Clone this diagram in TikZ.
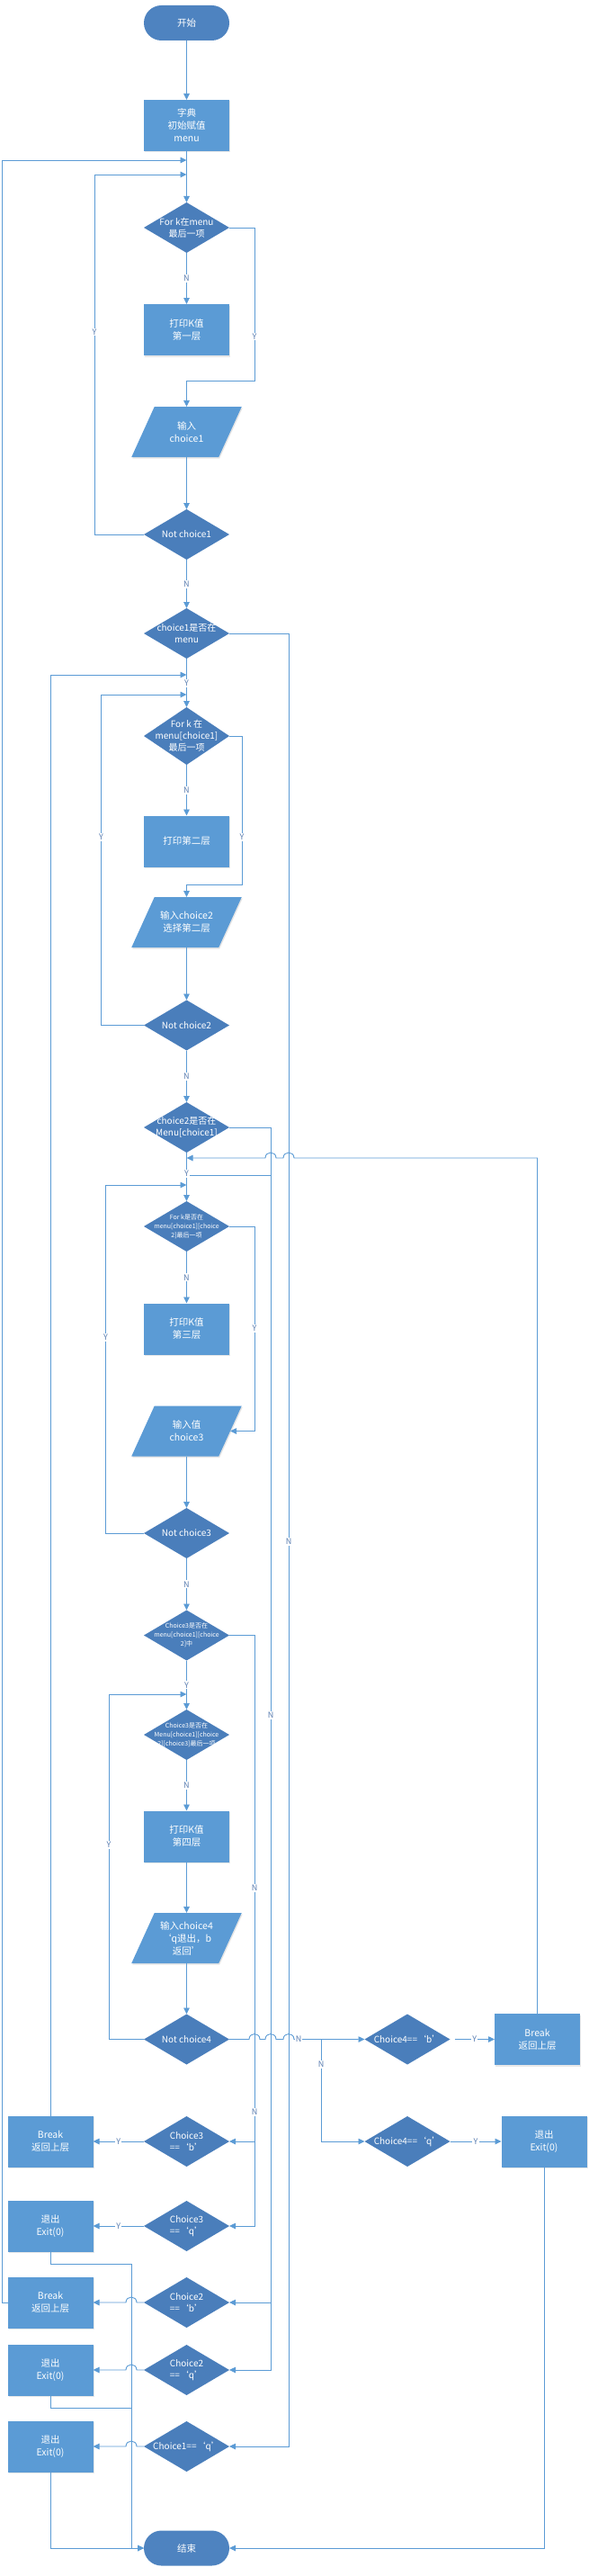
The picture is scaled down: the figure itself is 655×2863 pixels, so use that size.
\documentclass[tikz,border=0pt]{standalone}
\usepackage{fontspec}
\setmainfont{Noto Sans CJK SC}
\usetikzlibrary{shapes.geometric,arrows.meta,shadows,backgrounds}
\definecolor{linec}{HTML}{5B9BD5}
\definecolor{boxc}{HTML}{5B9BD5}
\definecolor{diac}{HTML}{4A7EBB}
\definecolor{termc}{HTML}{4E83C0}
\definecolor{ync}{HTML}{5A7DB0}
\begin{document}
\begin{tikzpicture}[x=1pt,y=-1pt,
  txt/.style={text=white, align=center, inner sep=0pt, outer sep=0pt},
  term/.style={txt, rectangle, rounded corners=19.5pt, fill=termc, minimum width=95pt, minimum height=39pt, font=\fontsize{10.5}{13.5}\selectfont},
  pbox/.style={txt, rectangle, fill=boxc, minimum width=95pt, minimum height=57pt, font=\fontsize{10.5}{14}\selectfont, drop shadow={opacity=0.18, shadow xshift=1pt, shadow yshift=-1.5pt}},
  iobox/.style={txt, rectangle, minimum width=97pt, minimum height=56pt, font=\fontsize{10.5}{14}\selectfont},
  dia/.style={diamond, fill=diac, minimum width=95pt, minimum height=56pt, inner sep=0pt, outer sep=0pt},
  dt/.style={txt, font=\fontsize{10}{13}\selectfont},
  dts/.style={txt, font=\fontsize{7}{10}\selectfont},
  yn/.style={fill=white, text=ync, font=\fontsize{9}{10}\selectfont, inner sep=1.2pt},
  ln/.style={draw=linec, line width=0.9pt},
  arr/.style={ln, -{Triangle[length=7pt,width=6.5pt]}}
]
\useasboundingbox (0,0) rectangle (655,2863);

% ---------- nodes ----------
\node[term] (start) at (207.5,25.5) {开始};
\node[pbox] (dict) at (207.5,139.5) {字典\\初始赋值\\menu};
\node[dia, label={[dt]center:{For k在menu\\最后一项}}] (d1) at (207.5,253) {};
\node[pbox] (p1) at (207.5,366.5) {打印K值\\第一层};
\node[iobox] (io1) at (207.5,480) {输入\\choice1};
\node[dia, label={[dt]center:{Not choice1}}] (nc1) at (207.5,594) {};
\node[dia, label={[dt]center:{choice1是否在\\menu}}] (d2) at (207.5,704) {};
\node[dia, minimum height=64pt, label={[dt]center:{For k 在\\menu[choice1]\\最后一项}}] (d3) at (207.5,818) {};
\node[pbox] (p2) at (207.5,935) {打印第二层};
\node[iobox] (io2) at (207.5,1025) {输入choice2\\选择第二层};
\node[dia, label={[dt]center:{Not choice2}}] (nc2) at (207.5,1139.5) {};
\node[dia, label={[dt]center:{choice2是否在\\Menu[choice1]}}] (d4) at (207.5,1253) {};
\node[dia, label={[dts]center:{For k是否在\\menu[choice1][choice\\2]最后一项}}] (d5) at (207.5,1363) {};
\node[pbox] (p3) at (207.5,1477) {打印K值\\第三层};
\node[iobox] (io3) at (207.5,1590.5) {输入值\\choice3};
\node[dia, label={[dt]center:{Not choice3}}] (nc3) at (207.5,1704) {};
\node[dia, label={[dts]center:{Choice3是否在\\menu[choice1][choice\\2]中}}] (d6) at (207.5,1817.5) {};
\node[dia, label={[dts]center:{Choice3是否在\\Menu[choice1][choice\\2][choice3]最后一项}}] (d7) at (207.5,1928) {};
\node[pbox] (p4) at (207.5,2041) {打印K值\\第四层};
\node[iobox] (io4) at (207.5,2154) {输入choice4\\‘q退出，b\\返回’};
\node[dia, label={[dt]center:{Not choice4}}] (nc4) at (207.5,2266.5) {};
\node[dia, label={[dt]center:{Choice4==‘b’}}] (c4b) at (453,2266.5) {};
\node[pbox] (brk4) at (597.5,2266.5) {Break\\返回上层};
\node[dia, label={[dt]center:{Choice4==‘q’}}] (c4q) at (453,2380) {};
\node[pbox] (ex4) at (605,2380) {退出\\Exit(0)};
\node[dia, label={[dt]center:{Choice3\\==‘b’}}] (c3b) at (207.5,2380) {};
\node[pbox] (brk3) at (56,2380) {Break\\返回上层};
\node[dia, label={[dt]center:{Choice3\\==‘q’}}] (c3q) at (207.5,2474) {};
\node[pbox] (ex3) at (56,2474) {退出\\Exit(0)};
\node[dia, label={[dt]center:{Choice2\\==‘b’}}] (c2b) at (207.5,2559) {};
\node[pbox] (brk2) at (56,2559) {Break\\返回上层};
\node[dia, label={[dt]center:{Choice2\\==‘q’}}] (c2q) at (207.5,2634) {};
\node[pbox] (ex2) at (56,2634) {退出\\Exit(0)};
\node[dia, label={[dt]center:{Choice1==‘q’}}] (c1q) at (207.5,2719) {};
\node[pbox] (ex1) at (56,2719) {退出\\Exit(0)};
\node[term] (end) at (207.5,2832) {结束};

% white page and parallelograms behind the input nodes
\begin{scope}[on background layer]
\fill[white] (0,0) rectangle (655,2863);
\foreach \n in {io1,io2,io3,io4}{
  \fill[black!40, opacity=0.25] ([xshift=13.75pt,yshift=-1.5pt]\n.north west) -- ([xshift=13.75pt,yshift=-1.5pt]\n.north east) -- ([xshift=-11.75pt,yshift=-1.5pt]\n.south east) -- ([xshift=-11.75pt,yshift=-1.5pt]\n.south west) -- cycle;
  \fill[boxc] ([xshift=12.75pt]\n.north west) -- ([xshift=12.75pt]\n.north east) -- ([xshift=-12.75pt]\n.south east) -- ([xshift=-12.75pt]\n.south west) -- cycle;
}
\end{scope}

% ---------- junction coordinates ----------
\coordinate (j0) at (207.5,178);
\coordinate (j1) at (207.5,194);
\coordinate (j2o) at (207.5,750);
\coordinate (j2) at (207.5,772);
\coordinate (j3r) at (207.5,1287);
\coordinate (j3s) at (207.5,1306);
\coordinate (j3) at (207.5,1317);
\coordinate (j4) at (207.5,1883);
\coordinate (k4) at (357,2266.5);

% ---------- connectors ----------
\draw[arr] (start) -- (dict);
\draw[arr] (dict) -- (d1);
\draw[arr] (brk2.west) -- (2,2559) -- (2,178) -- (j0);
\draw[arr] (nc1.west) -- (105,594) -- (105,194) -- (j1);
\draw[arr] (d1) -- node[yn]{N} (p1);
\draw[arr] (d1.east) -- (283,253) -- (283,423) -- (207.5,423) -- (io1.north);
\draw[arr] (io1) -- (nc1);
\draw[arr] (nc1) -- node[yn]{N} (d2);
\draw[arr] (d2.east) -- (321,704) -- (321,2719) -- (c1q.east);
\draw[arr] (d2) -- (d3);
\draw[arr] (brk3.north) -- (56,750) -- (j2o);
\draw[arr] (nc2.west) -- (112.5,1139.5) -- (112.5,772) -- (j2);
\draw[arr] (d3) -- node[yn]{N} (p2);
\draw[arr] (d3.east) -- (269,818) -- (269,983) -- (207.5,983) -- (io2.north);
\draw[arr] (io2) -- (nc2);
\draw[arr] (nc2) -- node[yn]{N} (d4);
\draw[arr] (d4.east) -- (301,1253) -- (301,2559) -- (c2b.east);
\draw[arr] (301,2559) -- (301,2634) -- (c2q.east);
\draw[ln] (j3s) -- (301,1306);
\draw[arr] (d4) -- (d5);
\draw[arr] (brk4.north) -- (597.5,1287) -- (327,1287) .. controls (327,1279) and (315,1279) .. (315,1287) -- (307,1287) .. controls (307,1279) and (295,1279) .. (295,1287) -- (j3r);
\draw[arr] (nc3.west) -- (117.5,1704) -- (117.5,1317) -- (j3);
\draw[arr] (d5) -- node[yn]{N} (p3);
\draw[arr] (d5.east) -- (283,1363) -- (283,1590.5) -- (io3.east);
\draw[arr] (io3) -- (nc3);
\draw[arr] (nc3) -- node[yn]{N} (d6);
\draw[arr] (d6.east) -- (283,1817.5) -- (283,2380) -- (c3b.east);
\draw[arr] (283,2380) -- (283,2474) -- (c3q.east);
\draw[arr] (d6) -- node[yn]{Y} (d7);
\draw[arr] (nc4.west) -- (121,2266.5) -- (121,1883) -- (j4);
\draw[arr] (d7) -- node[yn]{N} (p4);
\draw[arr] (p4) -- (io4);
\draw[arr] (io4) -- (nc4);
\draw[arr] (nc4.east) -- (277,2266.5) .. controls (277,2258.5) and (289,2258.5) .. (289,2266.5) -- (295,2266.5) .. controls (295,2258.5) and (307,2258.5) .. (307,2266.5) -- (315,2266.5) .. controls (315,2258.5) and (327,2258.5) .. (327,2266.5) -- (k4) -- (c4b.west);
\draw[arr] (k4) -- (357,2380) -- (c4q.west);
\draw[arr] ([xshift=5pt]c4b.east) -- node[yn]{Y} (brk4.west);
\draw[arr] (c4q.east) -- node[yn]{Y} (ex4.west);
\draw[arr] (ex4.south) -- (605,2832) -- (end.east);
\draw[arr] (c3b.west) -- node[yn]{Y} (brk3.east);
\draw[arr] (c3q.west) -- node[yn]{Y} (ex3.east);
\draw[arr] (c2b.west) -- (152,2559) .. controls (152,2551) and (140,2551) .. (140,2559) -- (brk2.east);
\draw[arr] (c2q.west) -- (152,2634) .. controls (152,2626) and (140,2626) .. (140,2634) -- (ex2.east);
\draw[arr] (c1q.west) -- (152,2719) .. controls (152,2711) and (140,2711) .. (140,2719) -- (ex1.east);
\draw[arr] (ex3.south) -- (56,2516) -- (146,2516) -- (146,2832) -- (end.west);
\draw[ln] (ex2.south) -- (56,2676.5) -- (146,2676.5);
\draw[arr] (ex1.south) -- (56,2832) -- (end.west);

% ---------- free-standing branch labels ----------
\node[yn] (y1) at (105,369) {Y};
\node[yn] (y2) at (283,374) {Y};
\node[yn] (y3) at (207.5,759) {Y};
\node[yn] (y4) at (112.5,930.5) {Y};
\node[yn] (y5) at (269,930.5) {Y};
\node[yn] (y6) at (207.5,1304) {Y};
\node[yn] (y7) at (117.5,1486) {Y};
\node[yn] (y8) at (283,1476.5) {Y};
\node[yn] (y9) at (121,2050) {Y};
\node[yn] (n1) at (321,1713.5) {N};
\node[yn] (n2) at (301,1906) {N};
\node[yn] (n3) at (283,2098) {N};
\node[yn] (n4) at (283,2347) {N};
\node[yn] (n5) at (332,2266.5) {N};
\node[yn] (n6) at (357,2294) {N};
\end{tikzpicture}
\end{document}
